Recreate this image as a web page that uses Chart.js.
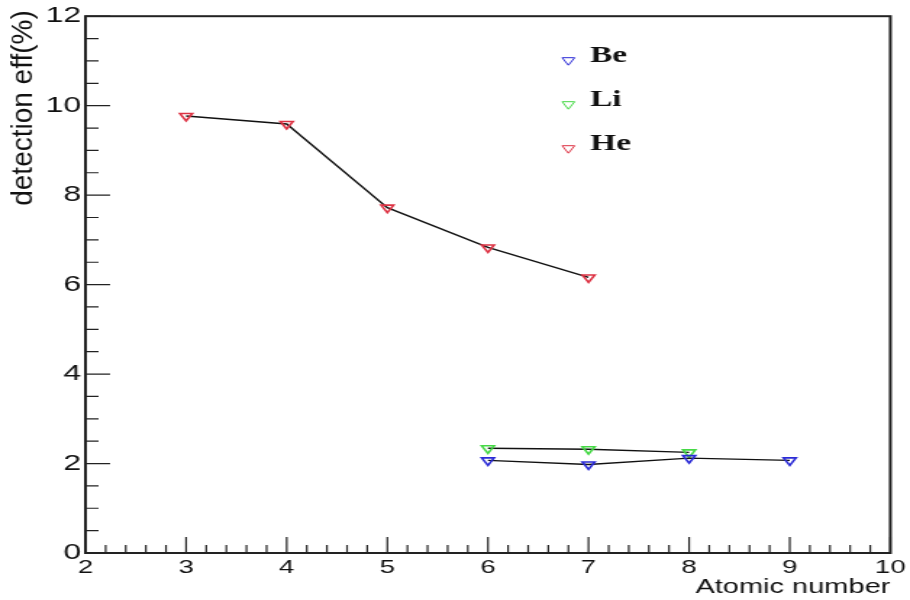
<!DOCTYPE html>
<html>
<head>
<meta charset="utf-8">
<script src="https://cdn.jsdelivr.net/npm/chart.js@4"></script>
<style>
  body { margin: 0; background: #fff; }
</style>
</head>
<body>
<!-- the original picture is stretched sideways, so the canvas is too -->
<canvas id="plot" width="628" height="600" style="display:block;width:910px;height:600px"></canvas>
<script>
// ── data ──
const heZ = [3, 4, 5, 6, 7];
const heEff = [9.77, 9.59, 7.72, 6.83, 6.16];
const liZ = [6, 7, 8];
const liEff = [2.34, 2.32, 2.25];
const beZ = [6, 7, 8, 9];
const beEff = [2.07, 1.98, 2.12, 2.07];

const xTicks = [2, 3, 4, 5, 6, 7, 8, 9, 10];
const yTicks = [0, 2, 4, 6, 8, 10, 12];

const STRETCH = 910 / 628;
const toPoints = (xs, ys) => xs.map((v, i) => ({ x: v, y: ys[i] }));

const series = (label, xs, ys, color) => ({
  label,
  data: toPoints(xs, ys),
  showLine: true,
  borderColor: '#111',
  borderWidth: 1.4,
  pointStyle: 'triangle',
  rotation: 180,
  pointRadius: 5,
  pointHoverRadius: 5,
  pointBorderWidth: 1.6,
  pointBorderColor: color,
  pointBackgroundColor: 'rgba(0,0,0,0)',
  markerColor: color
});

/* ── frame, inward ticks, y title and legend ── */
const rootStyle = {
  id: 'rootStyle',
  afterDraw(chart) {
    const { ctx, chartArea: a, scales: { x, y } } = chart;
    ctx.save();
    ctx.strokeStyle = '#222';
    ctx.lineWidth = 1.2;
    ctx.beginPath();
    for (let i = 0; i <= 40; i++) {
      const px = x.getPixelForValue(2 + i * 0.2);
      const len = i % 5 === 0 ? 16 : 8;
      ctx.moveTo(px, a.bottom);
      ctx.lineTo(px, a.bottom - len);
    }
    for (let i = 0; i <= 24; i++) {
      const py = y.getPixelForValue(i * 0.5);
      const len = i % 4 === 0 ? 17 : 9;
      ctx.moveTo(a.left, py);
      ctx.lineTo(a.left + len, py);
    }
    ctx.stroke();
    ctx.lineWidth = 2;
    ctx.strokeRect(a.left, a.top, a.right - a.left, a.bottom - a.top);

    // y title, drawn unstretched like in the original
    ctx.fillStyle = '#111';
    ctx.font = '28px "Liberation Sans", Arial, sans-serif';
    ctx.textAlign = 'center';
    ctx.textBaseline = 'middle';
    ctx.translate(17, 108);
    ctx.scale(1 / STRETCH, 1);
    ctx.rotate(-Math.PI / 2);
    ctx.fillText('detection eff(%)', 0, 0);
    ctx.restore();

    // legend
    ctx.save();
    const lx = a.left + (a.right - a.left) * 0.6;
    ctx.font = 'bold 23px "Liberation Serif", "Times New Roman", serif';
    ctx.textBaseline = 'alphabetic';
    chart.data.datasets.forEach((ds, i) => {
      const ly = a.top + 44 * (i + 1);
      ctx.strokeStyle = ds.markerColor;
      ctx.fillStyle = 'rgba(0,0,0,0)';
      Chart.helpers.drawPoint(ctx, { pointStyle: 'triangle', rotation: 180, radius: 5, borderWidth: 1.6 }, lx, ly);
      ctx.fillStyle = '#111';
      ctx.fillText(ds.label, lx + 15, ly + 2);
    });
    ctx.restore();
  }
};

new Chart(document.getElementById('plot'), {
  type: 'scatter',
  data: {
    datasets: [
      series('Be', beZ, beEff, '#2b2bd6'),
      series('Li', liZ, liEff, '#45d845'),
      series('He', heZ, heEff, '#dd3344')
    ]
  },
  options: {
    responsive: false,
    devicePixelRatio: 1,
    animation: false,
    layout: { padding: { left: 0, top: 15, right: 12, bottom: 0 } },
    plugins: { legend: { display: false }, tooltip: { enabled: false } },
    scales: {
      x: {
        type: 'linear', min: 2, max: 10,
        afterBuildTicks: s => { s.ticks = xTicks.map(v => ({ value: v })); },
        afterFit: s => { s.height = 47; },
        grid: { display: false, drawTicks: false },
        border: { display: false },
        ticks: { color: '#111', padding: 3, font: { family: '"Liberation Sans", Arial, sans-serif', size: 19 } },
        title: {
          display: true, text: 'Atomic number', align: 'end', color: '#111',
          padding: { top: 0, bottom: 1 },
          font: { family: '"Liberation Sans", Arial, sans-serif', size: 20 }
        }
      },
      y: {
        type: 'linear', min: 0, max: 12,
        afterBuildTicks: s => { s.ticks = yTicks.map(v => ({ value: v })); },
        afterFit: s => { s.width = 59; },
        grid: { display: false, drawTicks: false },
        border: { display: false },
        ticks: { color: '#111', padding: 3, font: { family: '"Liberation Sans", Arial, sans-serif', size: 22 } }
      }
    }
  },
  plugins: [rootStyle]
});
</script>
</body>
</html>
